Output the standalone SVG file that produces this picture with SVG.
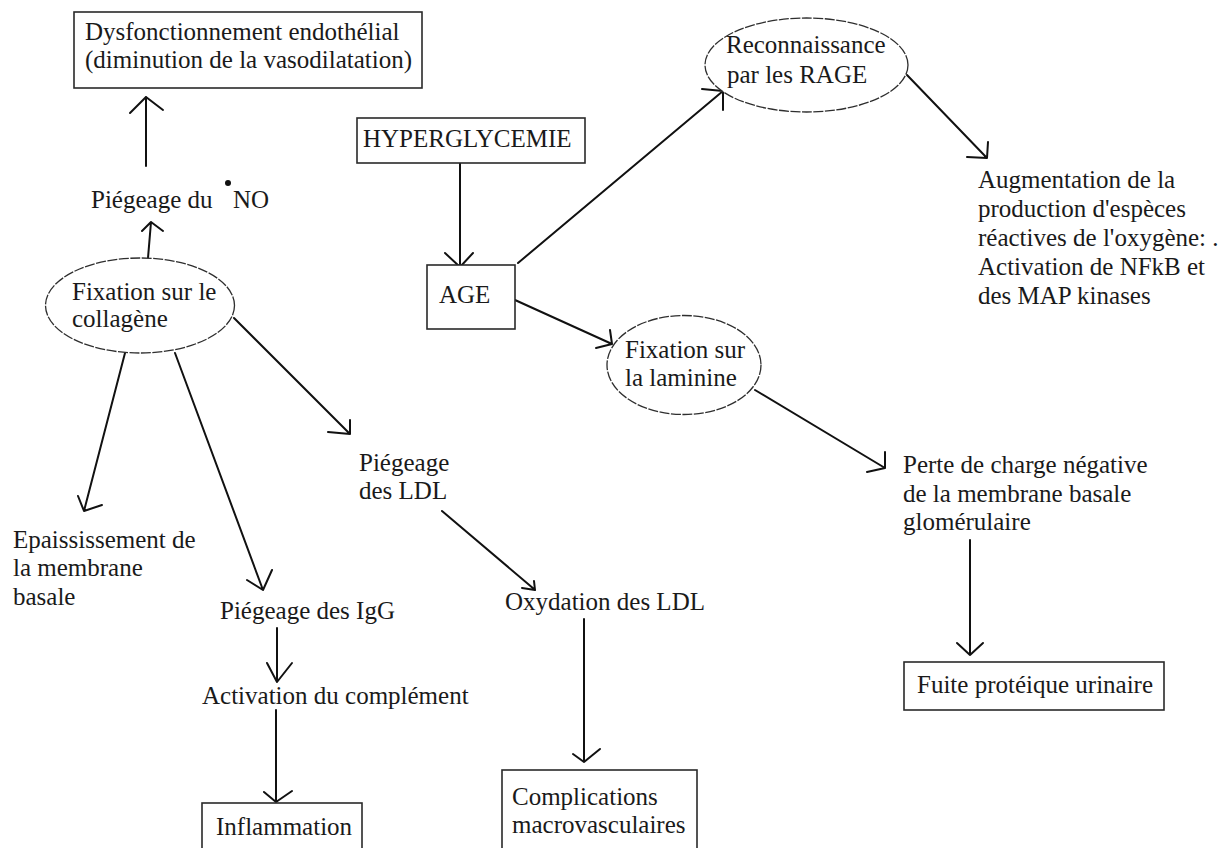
<svg xmlns="http://www.w3.org/2000/svg" width="1231" height="848" viewBox="0 0 1231 848">
  <style>
    text { font-family: "Liberation Serif", "Times New Roman", serif; font-size: 25px; fill: #1a1a1a; }
    .box { fill: #ffffff; stroke: #2a2a2a; stroke-width: 1.6; }
    .oval { fill: #ffffff; stroke: #2e2e2e; stroke-width: 1.3; stroke-dasharray: 10 1.5; }
    .link { fill: none; stroke: #111111; stroke-width: 2; stroke-linecap: round; stroke-linejoin: round; }
  </style>
  <rect x="0" y="0" width="1231" height="848" fill="#ffffff"/>

  <!-- connectors: shaft followed by an open hand-drawn head -->
  <g id="connectors">
    <path class="link" d="M146,166 L146,97 M130,113 L146,97 L163,110" stroke-width="2.4"/>
    <path class="link" d="M148,258 L151,222 M142,231 L151,222 L163,231"/>
    <path class="link" d="M460,163 L460,267 M445,253 L460,267 L473,253"/>
    <path class="link" d="M518,263 L723,91 M702,89 L723,91 L723,110"/>
    <path class="link" d="M907,75 L986,157 M967,157 L987,158 L988,142"/>
    <path class="link" d="M515,300 L612,344 M596,348 L612,344 L610,330"/>
    <path class="link" d="M755,390 L885,468 M867,472 L885,468 L885,452"/>
    <path class="link" d="M970,540 L970,655 M957,643 L970,655 L983,643"/>
    <path class="link" d="M125,353 L84,511 M78,496 L84,511 L102,505"/>
    <path class="link" d="M175,353 L263,590 M247,580 L263,590 L272,570"/>
    <path class="link" d="M277,628 L277,682 M267,663 L277,682 L292,663"/>
    <path class="link" d="M276,710 L276,802 M264,792 L276,802 L292,791"/>
    <path class="link" d="M234,318 L350,434 M328,432 L350,434 L350,420"/>
    <path class="link" d="M442,511 L534,589 M522,588 L535,590 L534,581"/>
    <path class="link" d="M584,619 L584,762 M573,754 L584,762 L600,749"/>
  </g>

  <g id="dysfonctionnement">
    <rect class="box" x="74" y="12" width="348" height="76"/>
    <text x="85" y="40">Dysfonctionnement endothélial</text>
    <text x="85" y="68">(diminution de la vasodilatation)</text>
  </g>

  <g id="piegeage-no">
    <text x="91" y="208">Piégeage du</text>
    <circle cx="228" cy="183" r="3" fill="#111111"/>
    <text x="233" y="208">NO</text>
  </g>

  <g id="fixation-collagene">
    <ellipse class="oval" cx="140" cy="305.5" rx="94.5" ry="47.5"/>
    <text x="72" y="300">Fixation sur le</text>
    <text x="72" y="327">collagène</text>
  </g>

  <g id="hyperglycemie">
    <rect class="box" x="357" y="118" width="228" height="45"/>
    <text x="363" y="147">HYPERGLYCEMIE</text>
  </g>

  <g id="age">
    <rect class="box" x="427" y="265" width="88" height="64"/>
    <text x="439" y="303">AGE</text>
  </g>

  <g id="reconnaissance-rage">
    <ellipse class="oval" cx="806.5" cy="65" rx="101.5" ry="47"/>
    <text x="726" y="53">Reconnaissance</text>
    <text x="727" y="83">par les RAGE</text>
  </g>

  <g id="augmentation-eor">
    <text x="978" y="188">Augmentation de la</text>
    <text x="978" y="217">production d'espèces</text>
    <text x="978" y="246">réactives de l'oxygène: .</text>
    <text x="978" y="275">Activation de NFkB et</text>
    <text x="978" y="304">des MAP kinases</text>
  </g>

  <g id="fixation-laminine">
    <ellipse class="oval" cx="684" cy="365" rx="77" ry="49.5"/>
    <text x="625" y="358">Fixation sur</text>
    <text x="625" y="386">la laminine</text>
  </g>

  <g id="perte-charge">
    <text x="903" y="473">Perte de charge négative</text>
    <text x="903" y="502">de la membrane basale</text>
    <text x="903" y="530">glomérulaire</text>
  </g>

  <g id="fuite-proteique">
    <rect class="box" x="904" y="662" width="260" height="48"/>
    <text x="917" y="693">Fuite protéique urinaire</text>
  </g>

  <g id="epaississement">
    <text x="13" y="548">Epaississement de</text>
    <text x="13" y="576">la membrane</text>
    <text x="13" y="605">basale</text>
  </g>

  <g id="piegeage-igg">
    <text x="220" y="619">Piégeage des IgG</text>
  </g>

  <g id="activation-complement">
    <text x="202" y="704">Activation du complément</text>
  </g>

  <g id="inflammation">
    <rect class="box" x="202" y="803" width="160" height="60"/>
    <text x="216" y="835">Inflammation</text>
  </g>

  <g id="piegeage-ldl">
    <text x="359" y="471">Piégeage</text>
    <text x="359" y="499">des LDL</text>
  </g>

  <g id="oxydation-ldl">
    <text x="505" y="610">Oxydation des LDL</text>
  </g>

  <g id="complications">
    <rect class="box" x="502" y="770" width="195" height="95"/>
    <text x="512" y="805">Complications</text>
    <text x="512" y="833">macrovasculaires</text>
  </g>
</svg>
